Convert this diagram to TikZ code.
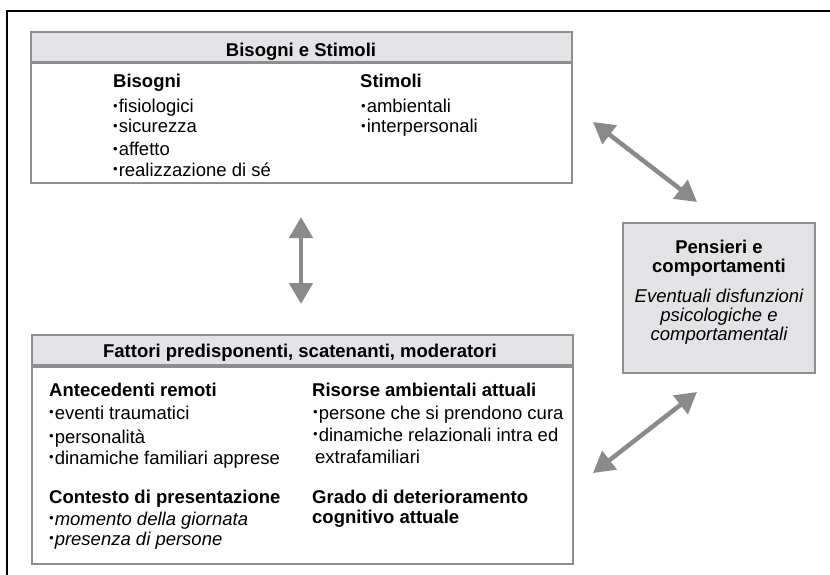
\documentclass[tikz,border=0pt]{standalone}
\usepackage{fontspec}
\setmainfont{Liberation Sans}
\usetikzlibrary{arrows.meta,positioning}
\definecolor{boxgrey}{RGB}{142,142,144}
\definecolor{bandgrey}{RGB}{227,227,229}
\definecolor{arrowgrey}{RGB}{138,138,140}
\newcommand{\blt}{\raisebox{0.3ex}{\fontsize{13}{13}\selectfont•}\kern1pt}
\tikzstyle{panel} = [draw=boxgrey, line width=2pt, rectangle, inner sep=0pt]
\tikzstyle{band} = [panel, fill=bandgrey]
\tikzstyle{txt} = [anchor=base west, inner sep=0pt, font=\fontsize{18.5}{20}\selectfont]
\tikzstyle{ttl} = [txt, font=\bfseries\fontsize{18.5}{20}\selectfont]
\tikzstyle{itl} = [txt, font=\itshape\fontsize{18.5}{20}\selectfont]
\tikzstyle{link} = [arrowgrey, line width=4.5pt, {Triangle[width=23pt,length=21pt]}-{Triangle[width=23pt,length=21pt]}]

\begin{document}
\begin{tikzpicture}[x=1pt,y=-1pt]
\useasboundingbox (0,0) rectangle (830,575);
\draw[line width=1.5pt] (7,590) -- (7,11) -- (845,11);
% Bisogni e Stimoli
\node[panel, minimum width=541pt, minimum height=151pt] (bs) at (301.5,107.5) {};
\node[band, minimum width=541pt, minimum height=30pt, anchor=north] (bsh) at (bs.north) {};
\draw[boxgrey, line width=3pt] (bsh.south west) -- (bsh.south east);
\node[ttl, anchor=base] at (301,57) {Bisogni e Stimoli};
\node[ttl] (bis) at (113,88) {Bisogni};
\node[txt] at (113,113) {\blt fisiologici};
\node[txt] at (113,133) {\blt sicurezza};
\node[txt] at (113,156) {\blt affetto};
\node[txt] at (113,176) {\blt realizzazione di sé};
\node[ttl] (sti) at (360,88) {Stimoli};
\node[txt] at (361,113) {\blt ambientali};
\node[txt] at (361,133) {\blt interpersonali};
% Fattori
\node[panel, minimum width=541pt, minimum height=229pt] (fp) at (302.5,449.5) {};
\node[band, minimum width=541pt, minimum height=30pt, anchor=north] (fph) at (fp.north) {};
\draw[boxgrey, line width=3pt] (fph.south west) -- (fph.south east);
\node[ttl, anchor=base] at (300,357) {Fattori predisponenti, scatenanti, moderatori};
\node[ttl] at (49,396) {Antecedenti remoti};
\node[txt] at (49,419) {\blt eventi traumatici};
\node[txt] at (49,443) {\blt personalità};
\node[txt] at (49,464) {\blt dinamiche familiari apprese};
\node[ttl] at (49,503) {Contesto di presentazione};
\node[itl] at (49,525) {\blt momento della giornata};
\node[itl] at (49,545) {\blt presenza di persone};
\node[ttl] at (312,396) {Risorse ambientali attuali};
\node[txt] at (313,419) {\blt persone che si prendono cura};
\node[txt] at (313,441) {\blt dinamiche relazionali intra ed};
\node[txt] at (315,463) {extrafamiliari};
\node[ttl] at (312,503) {Grado di deterioramento};
\node[ttl] at (312,523) {cognitivo attuale};
% Pensieri e comportamenti
\node[band, minimum width=192pt, minimum height=150pt] (pc) at (719,298) {};
\node[ttl, anchor=base] at (719,253) {Pensieri e};
\node[ttl, anchor=base] at (719,272) {comportamenti};
\node[itl, anchor=base] at (719,302) {Eventuali disfunzioni};
\node[itl, anchor=base] at (719,321) {psicologiche e};
\node[itl, anchor=base] at (719,340) {comportamentali};
% frecce
\coordinate (a1) at (301,217);
\coordinate (a2) at (301,304);
\coordinate (b1) at (593,122);
\coordinate (b2) at (697,202);
\coordinate (c1) at (593,473);
\coordinate (c2) at (697,392);
\draw[link] (a1) -- (a2);
\draw[link] (b1) -- (b2);
\draw[link] (c1) -- (c2);
\end{tikzpicture}
\end{document}
